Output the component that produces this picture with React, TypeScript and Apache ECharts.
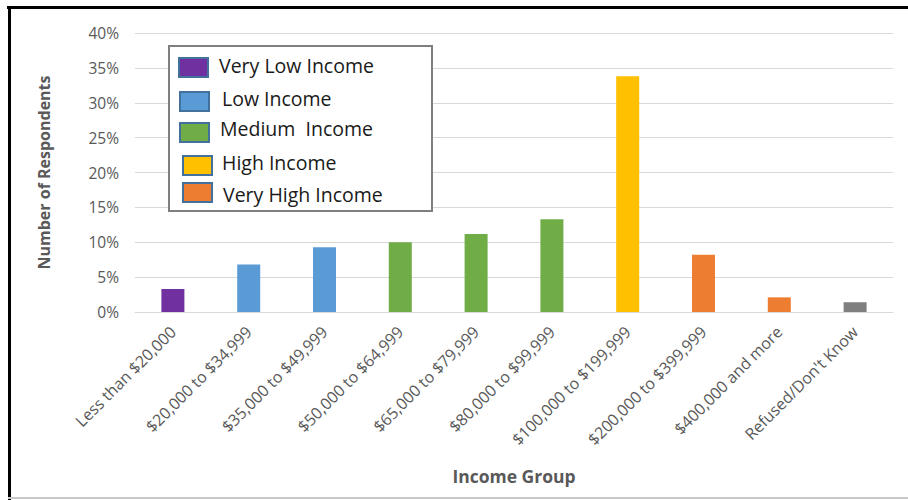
import React, { useEffect, useRef } from "react";
import * as echarts from "echarts";

// Income brackets and share of respondents (%)
const categories = [
  "Less than $20,000",
  "$20,000 to $34,999",
  "$35,000 to $49,999",
  "$50,000 to $64,999",
  "$65,000 to $79,999",
  "$80,000 to $99,999",
  "$100,000 to $199,999",
  "$200,000 to $399,999",
  "$400,000 and more",
  "Refused/Don't Know",
];
const shares = [3.3, 6.8, 9.3, 10.0, 11.2, 13.3, 33.8, 8.2, 2.1, 1.4];
// Which income group each bracket belongs to (index into groupColors)
const groupOfBracket = [0, 1, 1, 2, 2, 2, 3, 4, 4, 5];
const groupNames = ["Very Low Income", "Low Income", "Medium  Income", "High Income", "Very High Income"];
const groupColors = ["#7030A0", "#5B9BD5", "#70AD47", "#FFC000", "#ED7D31", "#7F7F7F"];
const yTicks = [0, 5, 10, 15, 20, 25, 30, 35, 40];

// Hand-placed legend rows: swatch left/top and label left/centre
const legendRows = [
  { sx: 179, sy: 58, tx: 219, ty: 65 },
  { sx: 180, sy: 92, tx: 222, ty: 98 },
  { sx: 180, sy: 123, tx: 220, ty: 128 },
  { sx: 183, sy: 156, tx: 222, ty: 162 },
  { sx: 183, sy: 183, tx: 223, ty: 194 },
];

const FONT = "'Open Sans', 'Noto Sans', sans-serif";

export default function App() {
  const ref = useRef<HTMLDivElement>(null);

  useEffect(() => {
    if (!ref.current) return;
    const chart = echarts.init(ref.current, undefined, { renderer: "svg" });

    const legendGraphics: any[] = [
      {
        type: "rect",
        shape: { x: 169, y: 46, width: 263, height: 165 },
        style: { fill: "#ffffff", stroke: "#7F7F7F", lineWidth: 2 },
        z: 10,
      },
    ];
    groupNames.forEach((name, i) => {
      const r = legendRows[i];
      legendGraphics.push({
        type: "rect",
        shape: { x: r.sx, y: r.sy, width: 29, height: 19 },
        style: { fill: groupColors[i], stroke: "#41719C", lineWidth: 2 },
        z: 11,
      });
      legendGraphics.push({
        type: "text",
        x: r.tx,
        y: r.ty,
        style: {
          text: name,
          fill: "#1a1a1a",
          font: `19.5px ${FONT}`,
          textVerticalAlign: "middle",
        },
        z: 11,
      });
    });

    chart.setOption({
      animation: false,
      backgroundColor: "#ffffff",
      grid: { left: 135, right: 15, top: 33, bottom: 188, containLabel: false },
      xAxis: {
        type: "category",
        data: categories,
        name: "Income Group",
        nameLocation: "middle",
        nameGap: 155,
        nameTextStyle: { color: "#595959", fontSize: 17.5, fontWeight: "bold", fontFamily: FONT },
        axisLine: { show: true, lineStyle: { color: "#D9D9D9", width: 1 } },
        axisTick: { show: false },
        axisLabel: {
          interval: 0,
          rotate: 45,
          margin: 17,
          color: "#595959",
          fontSize: 16,
          fontFamily: FONT,
        },
      },
      yAxis: {
        type: "value",
        min: yTicks[0],
        max: yTicks[yTicks.length - 1],
        interval: yTicks[1] - yTicks[0],
        name: "Number of Respondents",
        nameLocation: "middle",
        nameGap: 83,
        nameTextStyle: { color: "#595959", fontSize: 16, fontWeight: "bold", fontFamily: FONT },
        axisLine: { show: false },
        axisTick: { show: false },
        axisLabel: {
          formatter: "{value}%",
          color: "#595959",
          fontSize: 15.5,
          fontFamily: FONT,
          margin: 16,
        },
        splitLine: { lineStyle: { color: "#D9D9D9", width: 1 } },
      },
      series: [
        {
          type: "bar",
          barWidth: 23,
          data: shares.map((v, i) => ({
            value: v,
            itemStyle: { color: groupColors[groupOfBracket[i]] },
          })),
        },
      ],
      graphic: [
        // outer frame
        { type: "rect", shape: { x: 7, y: 6, width: 901, height: 3 }, style: { fill: "#000000" }, z: 20 },
        { type: "rect", shape: { x: 8, y: 6, width: 3, height: 494 }, style: { fill: "#000000" }, z: 20 },
        { type: "rect", shape: { x: 8, y: 497, width: 900, height: 2 }, style: { fill: "#C8C8C8" }, z: 20 },
        ...legendGraphics,
      ],
    });

    return () => chart.dispose();
  }, []);

  return (
    <div
      ref={ref}
      style={{ position: "fixed", left: 0, top: 0, width: 908, height: 500 }}
    />
  );
}
